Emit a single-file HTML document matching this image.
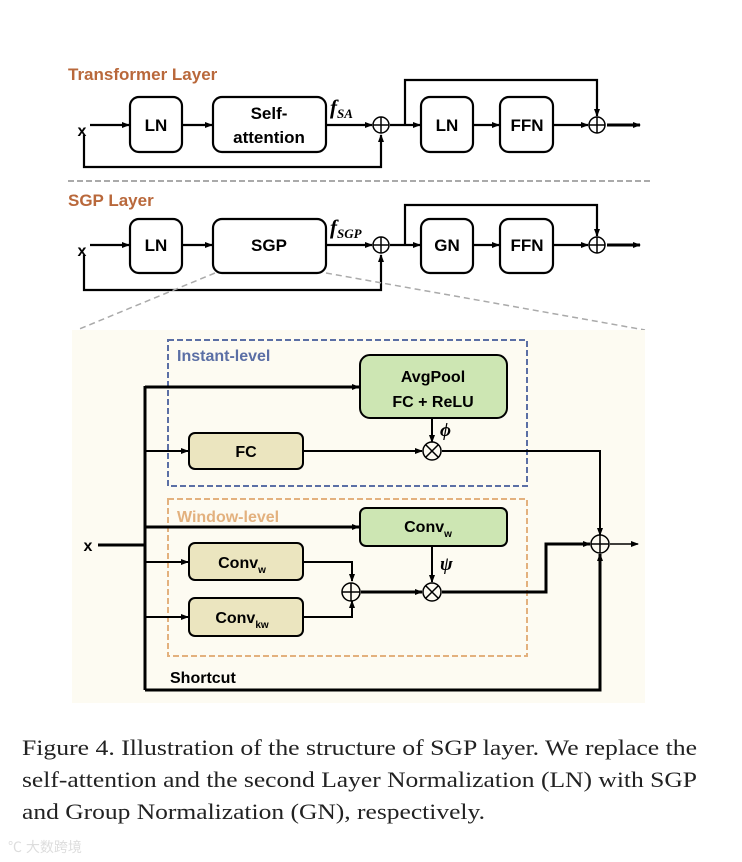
<!DOCTYPE html>
<html><head><meta charset="utf-8"><style>
html,body{margin:0;padding:0;background:#fff;width:742px;height:862px;overflow:hidden}
.s{font-family:"Liberation Sans",sans-serif}
.r{font-family:"Liberation Serif",serif}
</style></head><body>
<svg width="742" height="862" viewBox="0 0 742 862" xmlns="http://www.w3.org/2000/svg">
<defs>
<marker id="a" markerWidth="8" markerHeight="8" refX="7" refY="4" orient="auto" markerUnits="userSpaceOnUse"><path d="M0,1 L8,4 L0,7 z" fill="#000"/></marker>
</defs>
<g stroke="#000" fill="none" stroke-width="2.2">
<rect x="130" y="97" width="52" height="55" rx="9" fill="#fff"/>
<rect x="213" y="97" width="113" height="55" rx="9" fill="#fff"/>
<rect x="421" y="97" width="52" height="55" rx="9" fill="#fff"/>
<rect x="500" y="97" width="53" height="55" rx="9" fill="#fff"/>
<line x1="90" y1="125" x2="129" y2="125" marker-end="url(#a)"/>
<line x1="182" y1="125" x2="212" y2="125" marker-end="url(#a)"/>
<line x1="326" y1="125" x2="372" y2="125" marker-end="url(#a)"/>
<polyline points="84,135 84,167 381,167 381,135" marker-end="url(#a)"/>
<line x1="390" y1="125" x2="420" y2="125" marker-end="url(#a)"/>
<polyline points="405,125 405,80 597,80 597,116" marker-end="url(#a)"/>
<line x1="473" y1="125" x2="499" y2="125" marker-end="url(#a)"/>
<line x1="553" y1="125" x2="588" y2="125" marker-end="url(#a)"/>
<line x1="607" y1="125" x2="640" y2="125" stroke-width="3" marker-end="url(#a)"/>
<circle cx="381" cy="125" r="8" stroke-width="1.5"/><path d="M373,125h16M381,117v16" stroke-width="1.5"/>
<circle cx="597" cy="125" r="8" stroke-width="1.5"/><path d="M589,125h16M597,117v16" stroke-width="1.5"/>
<rect x="130" y="219" width="52" height="54" rx="9" fill="#fff"/>
<rect x="213" y="219" width="113" height="54" rx="9" fill="#fff"/>
<rect x="421" y="219" width="52" height="54" rx="9" fill="#fff"/>
<rect x="500" y="219" width="53" height="54" rx="9" fill="#fff"/>
<line x1="90" y1="245" x2="129" y2="245" marker-end="url(#a)"/>
<line x1="182" y1="245" x2="212" y2="245" marker-end="url(#a)"/>
<line x1="326" y1="245" x2="372" y2="245" marker-end="url(#a)"/>
<polyline points="84,255 84,290 381,290 381,255" marker-end="url(#a)"/>
<line x1="390" y1="245" x2="420" y2="245" marker-end="url(#a)"/>
<polyline points="405,245 405,205 597,205 597,236" marker-end="url(#a)"/>
<line x1="473" y1="245" x2="499" y2="245" marker-end="url(#a)"/>
<line x1="553" y1="245" x2="588" y2="245" marker-end="url(#a)"/>
<line x1="607" y1="245" x2="640" y2="245" stroke-width="3" marker-end="url(#a)"/>
<circle cx="381" cy="245" r="8" stroke-width="1.5"/><path d="M373,245h16M381,237v16" stroke-width="1.5"/>
<circle cx="597" cy="245" r="8" stroke-width="1.5"/><path d="M589,245h16M597,237v16" stroke-width="1.5"/>
</g>
<line x1="68" y1="181" x2="652" y2="181" stroke="#aaa" stroke-width="2" stroke-dasharray="6,3"/>
<line x1="215" y1="273" x2="77" y2="330" stroke="#aaa" stroke-width="1.5" stroke-dasharray="6,4"/>
<line x1="326" y1="273" x2="645" y2="330" stroke="#aaa" stroke-width="1.5" stroke-dasharray="6,4"/>
<g class="s" font-weight="bold" font-size="17" text-anchor="middle" fill="#000">
<text x="68" y="80" text-anchor="start" fill="#b9683b">Transformer Layer</text>
<text x="68" y="206" text-anchor="start" fill="#b9683b">SGP Layer</text>
<text x="82" y="136" font-size="16">x</text>
<text x="82" y="256" font-size="16">x</text>
<text x="156" y="131">LN</text>
<text x="269" y="119">Self-</text>
<text x="269" y="143">attention</text>
<text x="447" y="131">LN</text>
<text x="527" y="131">FFN</text>
<text x="156" y="251">LN</text>
<text x="269" y="251">SGP</text>
<text x="447" y="251">GN</text>
<text x="527" y="251">FFN</text>
</g>
<text class="r" x="330" y="114" font-style="italic" font-weight="bold" font-size="21">f<tspan font-size="13" dy="4">SA</tspan></text>
<text class="r" x="330" y="234" font-style="italic" font-weight="bold" font-size="21">f<tspan font-size="13" dy="4">SGP</tspan></text>
<rect x="72" y="330" width="573" height="373" fill="#fdfbf2"/>
<rect x="168" y="340" width="359" height="146" fill="none" stroke="#5b6fa5" stroke-width="2" stroke-dasharray="6,3"/>
<rect x="168" y="499" width="359" height="157" fill="none" stroke="#e3b17e" stroke-width="2" stroke-dasharray="6,3"/>
<g stroke="#000" stroke-width="2" fill="none">
<rect x="360" y="355" width="147" height="63" rx="10" fill="#cde6b3"/>
<rect x="189" y="433" width="114" height="36" rx="6" fill="#ebe5bf"/>
<rect x="360" y="508" width="147" height="38" rx="6" fill="#cde6b3"/>
<rect x="189" y="543" width="114" height="37" rx="6" fill="#ebe5bf"/>
<rect x="189" y="598" width="114" height="38" rx="6" fill="#ebe5bf"/>
<line x1="98" y1="545" x2="145" y2="545" stroke-width="3"/>
<line x1="145" y1="386" x2="145" y2="690" stroke-width="3"/>
<line x1="145" y1="387" x2="359" y2="387" stroke-width="3" marker-end="url(#a)"/>
<line x1="145" y1="451" x2="188" y2="451" marker-end="url(#a)"/>
<line x1="303" y1="451" x2="422" y2="451" marker-end="url(#a)"/>
<line x1="432" y1="418" x2="432" y2="442" marker-end="url(#a)"/>
<polyline points="442,451 600,451 600,535" marker-end="url(#a)"/>
<line x1="145" y1="527" x2="359" y2="527" stroke-width="3" marker-end="url(#a)"/>
<line x1="145" y1="562" x2="188" y2="562" marker-end="url(#a)"/>
<line x1="145" y1="617" x2="188" y2="617" marker-end="url(#a)"/>
<polyline points="303,562 352,562 352,581" marker-end="url(#a)"/>
<polyline points="303,617 352,617 352,601" marker-end="url(#a)"/>
<line x1="361" y1="592" x2="422" y2="592" stroke-width="3" marker-end="url(#a)"/>
<line x1="432" y1="546" x2="432" y2="582" marker-end="url(#a)"/>
<polyline points="442,592 546,592 546,544 590,544" stroke-width="3" marker-end="url(#a)"/>
<polyline points="145,690 600,690 600,554" stroke-width="3" marker-end="url(#a)"/>
<line x1="610" y1="544" x2="638" y2="544" stroke-width="1.5" marker-end="url(#a)"/>
<circle cx="432" cy="451" r="9" stroke-width="1.5"/><path d="M425.6,444.6l12.8,12.8M438.4,444.6l-12.8,12.8" stroke-width="1.5"/>
<circle cx="432" cy="592" r="9" stroke-width="1.5"/><path d="M425.6,585.6l12.8,12.8M438.4,585.6l-12.8,12.8" stroke-width="1.5"/>
<circle cx="351" cy="592" r="9" stroke-width="1.5"/><path d="M342,592h18M351,583v18" stroke-width="1.5"/>
<circle cx="600" cy="544" r="9" stroke-width="1.5"/><path d="M591,544h18M600,535v18" stroke-width="1.5"/>
</g>
<g class="s" font-weight="bold" font-size="16" text-anchor="middle" fill="#000">
<text x="177" y="361" text-anchor="start" fill="#5b6fa5">Instant-level</text>
<text x="177" y="522" text-anchor="start" fill="#e3b17e">Window-level</text>
<text x="433" y="382">AvgPool</text>
<text x="433" y="407">FC + ReLU</text>
<text x="246" y="457">FC</text>
<text x="428" y="532">Conv<tspan font-size="10" dy="5">w</tspan></text>
<text x="242" y="568">Conv<tspan font-size="10" dy="5">w</tspan></text>
<text x="242" y="623">Conv<tspan font-size="10" dy="5">kw</tspan></text>
<text x="88" y="551">x</text>
<text x="170" y="683" text-anchor="start">Shortcut</text>
</g>
<text class="r" x="440" y="436" font-style="italic" font-weight="bold" font-size="19">ϕ</text>
<text class="r" x="440" y="570" font-style="italic" font-weight="bold" font-size="19">ψ</text>
<g class="r" font-size="22" fill="#222">
<text x="22" y="755" textLength="675" lengthAdjust="spacingAndGlyphs">Figure 4. Illustration of the structure of SGP layer. We replace the</text>
<text x="22" y="787" textLength="675" lengthAdjust="spacingAndGlyphs">self-attention and the second Layer Normalization (LN) with SGP</text>
<text x="22" y="819" textLength="463" lengthAdjust="spacingAndGlyphs">and Group Normalization (GN), respectively.</text>
</g>
<text x="8" y="852" style="font-family:'Liberation Sans','Noto Sans CJK SC',sans-serif" font-size="14" fill="#ddd">℃ 大数跨境</text>
</svg>
</body></html>
